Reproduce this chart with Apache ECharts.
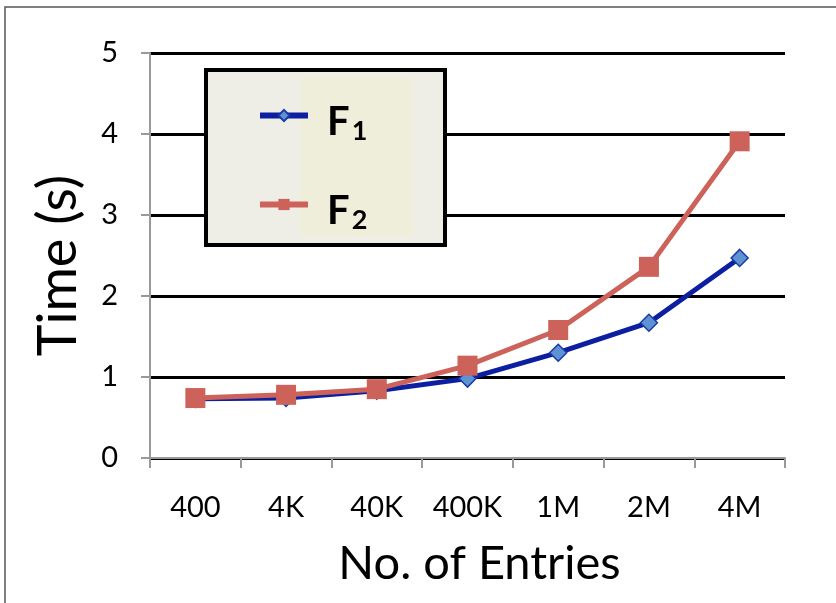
<!DOCTYPE html>
<html><head><meta charset="utf-8">
<script src="https://cdn.jsdelivr.net/npm/echarts@6/dist/echarts.min.js"></script>
<style>html,body{margin:0;padding:0;background:#fff}#c{width:836px;height:603px}</style>
</head><body><div id="c"></div>
<script>
const categories = ['400','4K','40K','400K','1M','2M','4M'];
const f1Values = [0.73, 0.74, 0.83, 0.98, 1.30, 1.67, 2.47];
const f2Values = [0.74, 0.78, 0.85, 1.14, 1.58, 2.36, 3.91];
const seriesNames = ['F1','F2'];
const yTicks = [0,1,2,3,4,5];

const FONT = 'Lato, "Liberation Sans", sans-serif';
function legendOf(name, top){
  return {
    z: 20,
    left:252, top:top,
    itemWidth:48, itemHeight:14, itemGap:0,
    data:[name],
    lineStyle:{width:6},
    formatter: function(n){ return '{f|F}{s|' + n.slice(1) + '}'; },
    textStyle:{
      fontFamily:FONT,
      rich:{
        f:{fontSize:40, lineHeight:40, fontWeight:'bold', color:'#000', fontFamily:FONT, padding:[14,0,0,14]},
        s:{fontSize:27, lineHeight:24, fontWeight:'bold', color:'#000', fontFamily:FONT, padding:[32,0,0,2]}
      }
    }
  };
}
const chart = echarts.init(document.getElementById('c'));
chart.setOption({
  animation: false,
  backgroundColor: '#fff',
  grid: {left:150, right:51, top:53, bottom:145},
  graphic: [
    {type:'rect', z:-10, shape:{x:5,y:7,width:840,height:610}, style:{fill:'none', stroke:'#555', lineWidth:1.5}},
    {type:'rect', z:10, shape:{x:206,y:70,width:239,height:175}, style:{fill:'#EEEEE7', stroke:'#000', lineWidth:4}},
    {type:'rect', z:11, shape:{x:300,y:77,width:113,height:159}, style:{fill:'#EFEEDB'}}
  ],
  legend: [legendOf(seriesNames[0], 81), legendOf(seriesNames[1], 170)],
  xAxis: {
    type:'category', data:categories, boundaryGap:true,
    name:'No. of Entries', nameLocation:'middle', nameGap:82,
    nameTextStyle:{fontSize:47, color:'#000', fontFamily:FONT, padding:[0,0,0,24]},
    axisLine:{lineStyle:{color:'#999', width:2}},
    axisTick:{show:true, length:10, alignWithLabel:false, lineStyle:{color:'#999', width:2}},
    axisLabel:{fontSize:29, color:'#000', fontFamily:FONT, margin:35}
  },
  yAxis: {
    type:'value', min:0, max:5, interval:1,
    name:'Time (s)', nameLocation:'middle', nameGap:64,
    nameTextStyle:{fontSize:54, color:'#000', fontFamily:FONT, padding:[0,20,0,0]},
    axisLine:{show:true, lineStyle:{color:'#999', width:2}},
    axisTick:{show:true, length:9, lineStyle:{color:'#999', width:2}},
    axisLabel:{fontSize:29, color:'#000', fontFamily:FONT, margin:32,
      formatter: function(v){ return yTicks.indexOf(v) >= 0 ? String(v) : ''; }},
    splitLine:{show:true, lineStyle:{color:'#000', width:3}}
  },
  series: [
    {name:'F1', type:'line', data:f1Values, symbol:'diamond', symbolSize:17,
     lineStyle:{color:'#0B1FA0', width:5}, itemStyle:{color:'#5E92D2', borderColor:'#1A3AA8', borderWidth:1.5}, z:3},
    {name:'F2', type:'line', data:f2Values, symbol:'rect', symbolSize:20,
     lineStyle:{color:'#CD625A', width:5}, itemStyle:{color:'#CD625A'}, z:4}
  ]
});
</script></body></html>
